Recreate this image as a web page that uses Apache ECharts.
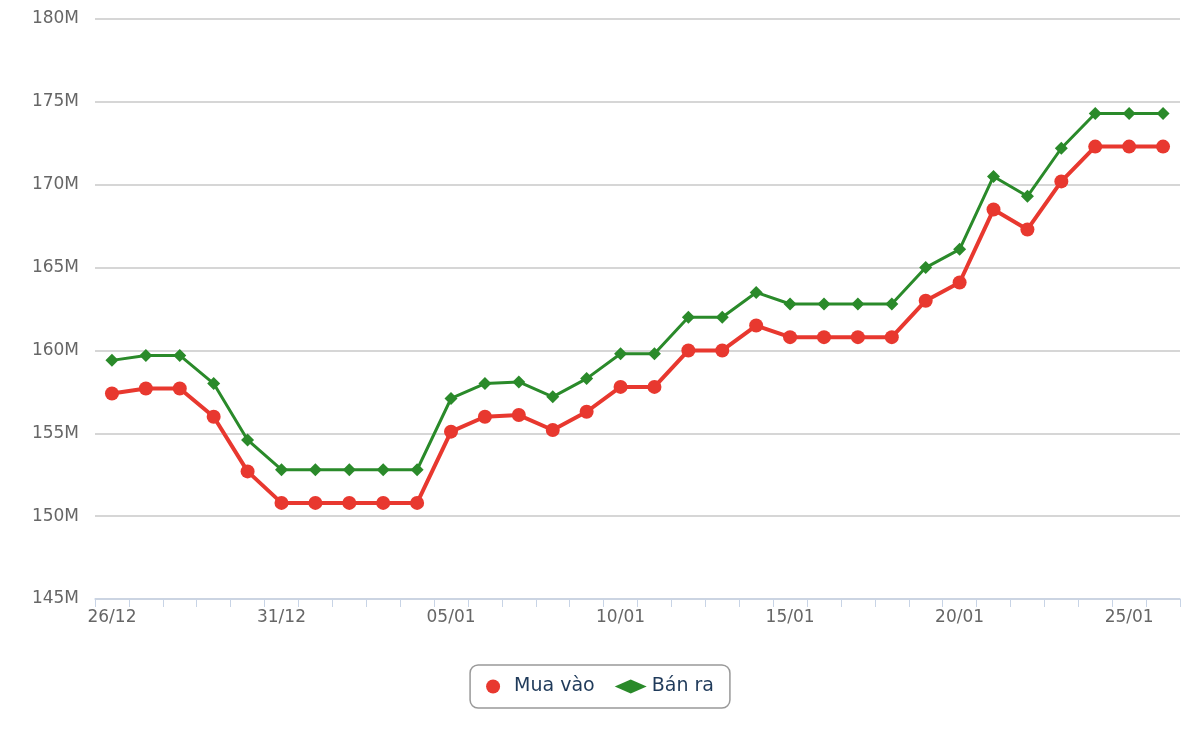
<!DOCTYPE html>
<html><head><meta charset="utf-8">
<script src="https://cdn.jsdelivr.net/npm/echarts@6/dist/echarts.min.js"></script>
<style>html,body{margin:0;background:#fff}#c{width:1200px;height:740px}</style>
</head><body><div id="c"></div>
<script>
const categories = ["26/12","27/12","28/12","29/12","30/12","31/12","01/01","02/01","03/01","04/01","05/01","06/01","07/01","08/01","09/01","10/01","11/01","12/01","13/01","14/01","15/01","16/01","17/01","18/01","19/01","20/01","21/01","22/01","23/01","24/01","25/01","26/01"];
const muaVao = [157.4,157.7,157.7,156.0,152.7,150.8,150.8,150.8,150.8,150.8,155.1,156.0,156.1,155.2,156.3,157.8,157.8,160.0,160.0,161.5,160.8,160.8,160.8,160.8,163.0,164.1,168.5,167.3,170.2,172.3,172.3,172.3];
const banRa = [159.4,159.7,159.7,158.0,154.6,152.8,152.8,152.8,152.8,152.8,157.1,158.0,158.1,157.2,158.3,159.8,159.8,162.0,162.0,163.5,162.8,162.8,162.8,162.8,165.0,166.1,170.5,169.3,172.2,174.3,174.3,174.3];
const font = "DejaVu Sans";
const chart = echarts.init(document.getElementById('c'));
chart.setOption({
  animation:false,
  textStyle:{fontFamily:font},
  grid:{left:95,right:20,top:19,bottom:141},
  legend:{bottom:32,left:'center',itemWidth:32,itemHeight:14,itemGap:20,padding:[12,16],
    borderColor:'#999',borderWidth:1.5,borderRadius:8,
    textStyle:{fontSize:19,color:'#1f3a5a',fontFamily:font},
    data:[{name:'Mua vào',icon:'circle'},{name:'Bán ra',icon:'diamond'}]},
  xAxis:{type:'category',data:categories,boundaryGap:true,
    axisLine:{lineStyle:{color:'#c8d4e6',width:1.5}},
    axisTick:{show:true,interval:0,length:8,lineStyle:{color:'#c8d4e6'}},
    axisLabel:{interval:4,color:'#666',fontSize:17,margin:10}},
  yAxis:{type:'value',min:145,max:180,interval:5,
    axisLine:{show:false},axisTick:{show:false},
    splitLine:{lineStyle:{color:'#c8c8c8',width:1.5}},
    axisLabel:{formatter:v=>v+'M',color:'#666',fontSize:17,margin:16}},
  series:[
    {name:'Mua vào',type:'line',data:muaVao,color:'#e8382f',symbol:'circle',symbolSize:14,
      lineStyle:{width:4},itemStyle:{color:'#e8382f'}},
    {name:'Bán ra',type:'line',data:banRa,color:'#2a8a2a',symbol:'diamond',symbolSize:13,
      lineStyle:{width:3},itemStyle:{color:'#2a8a2a'}}
  ]
});
</script></body></html>
